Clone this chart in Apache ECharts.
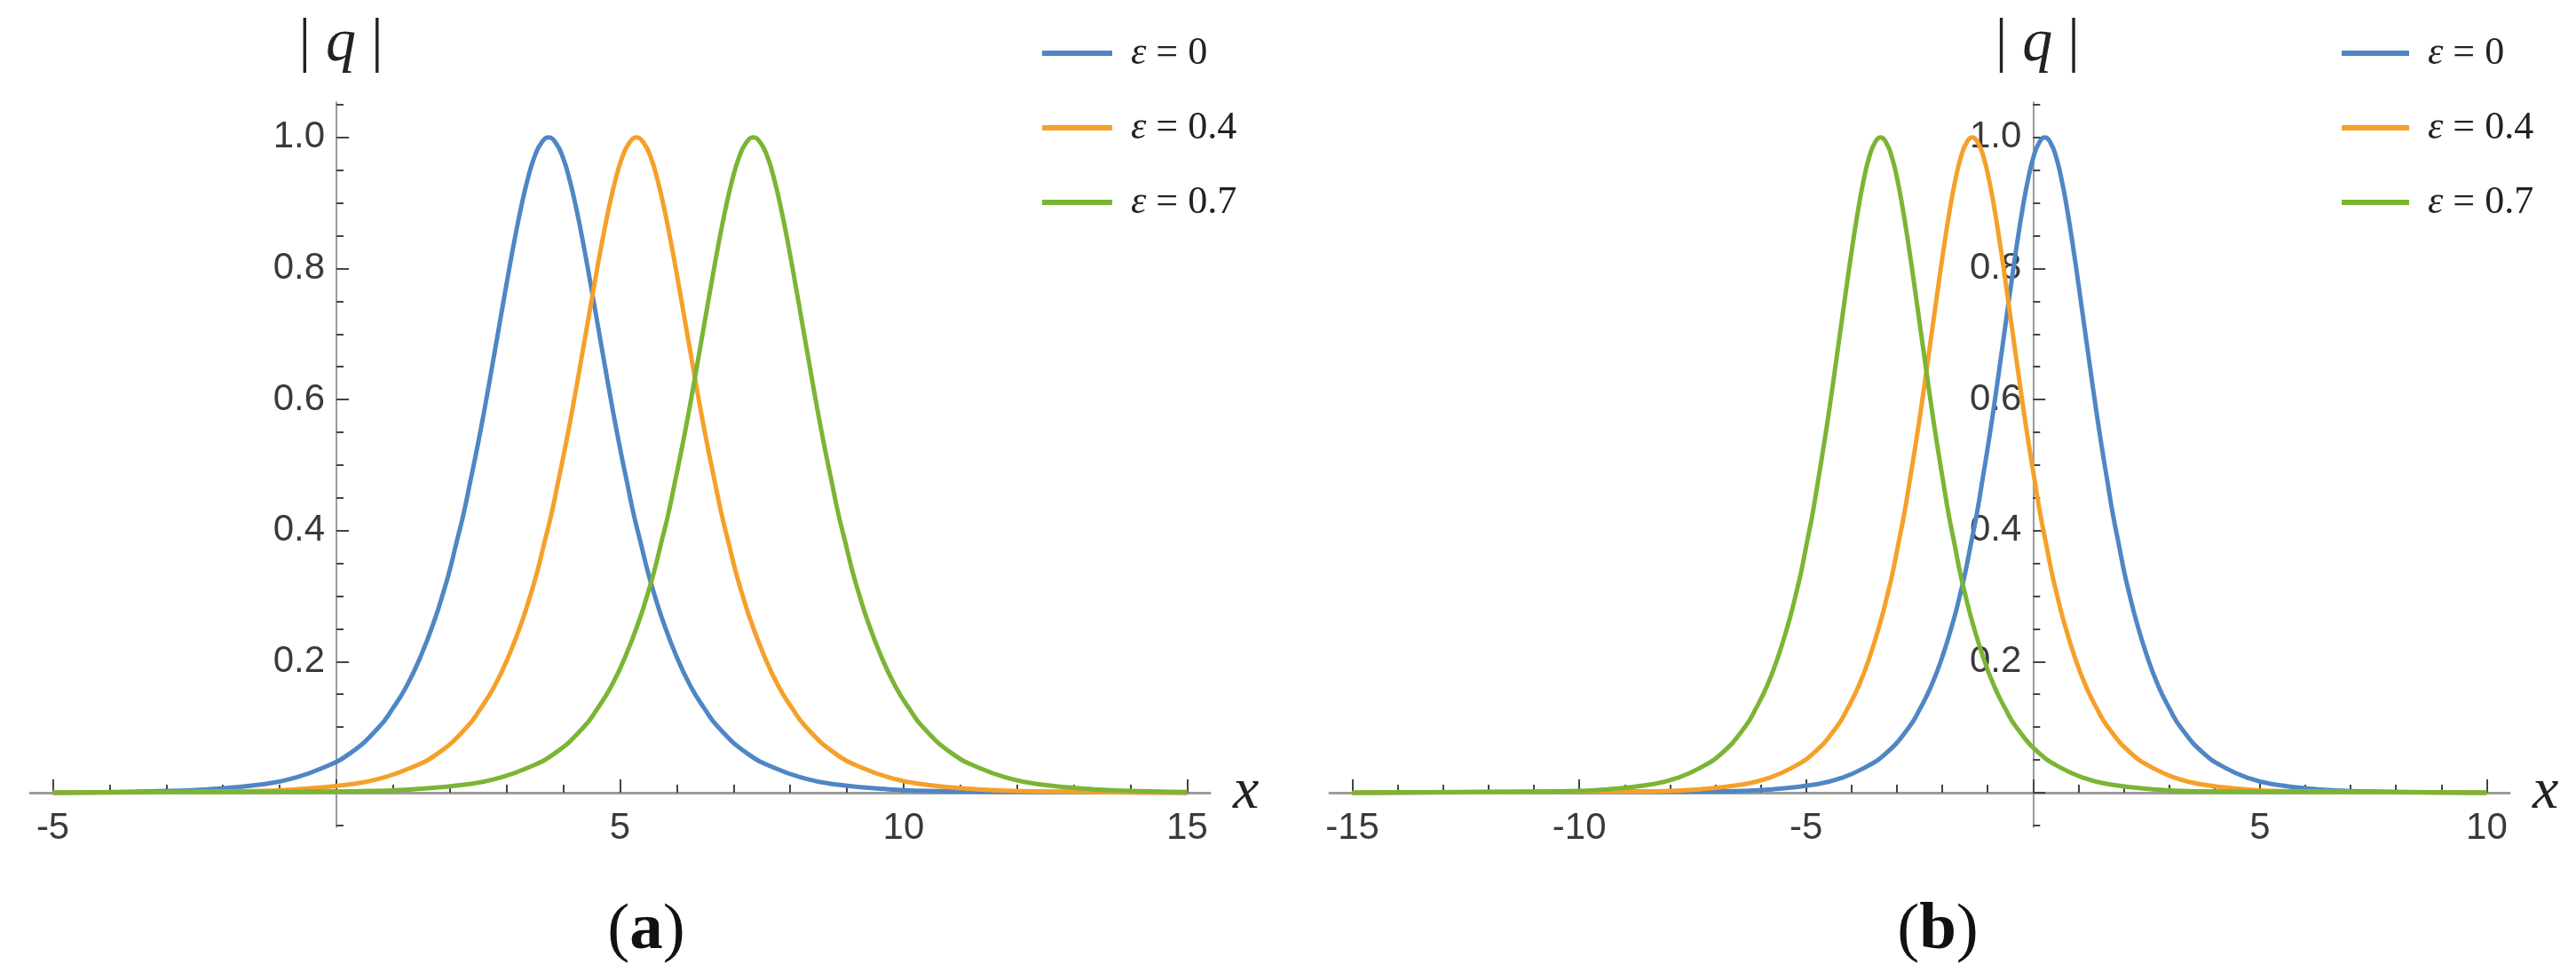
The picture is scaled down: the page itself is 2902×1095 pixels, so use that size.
<!DOCTYPE html>
<html>
<head>
<meta charset="utf-8">
<title>|q| profiles</title>
<script src="https://cdn.jsdelivr.net/npm/echarts@6/dist/echarts.min.js"></script>
<style>
  html, body { margin: 0; padding: 0; background: #fff; }
  #chart { width: 2902px; height: 1095px; }
</style>
</head>
<body>
<div id="chart"></div>
<script>
// 数据：两幅子图中 |q| 随 x 的分布
const seriesNames = ['ε = 0', 'ε = 0.4', 'ε = 0.7'];
const lineColors = ['#4f86c4', '#f5a02a', '#7ab534'];

// (a) 图
const leftEps0 = [
  [-5, 0.000], [-3.26, 0.002], [-2.26, 0.005], [-1.26, 0.013], [-0.76, 0.022], [-0.26, 0.037],
  [0.24, 0.060], [0.74, 0.099], [0.99, 0.128], [1.24, 0.163], [1.49, 0.209],
  [1.74, 0.266], [1.865, 0.300], [1.99, 0.337], [2.115, 0.381], [2.24, 0.425], [2.365, 0.477],
  [2.49, 0.530], [2.615, 0.587], [2.74, 0.648], [2.865, 0.710], [2.99, 0.772], [3.115, 0.832],
  [3.24, 0.887], [3.365, 0.934], [3.49, 0.970], [3.615, 0.992], [3.74, 1.000], [3.865, 0.992],
  [3.99, 0.970], [4.115, 0.934], [4.24, 0.887], [4.365, 0.832], [4.49, 0.772], [4.615, 0.710],
  [4.74, 0.648], [4.865, 0.587], [4.99, 0.530], [5.115, 0.477], [5.24, 0.425], [5.365, 0.381],
  [5.49, 0.337], [5.615, 0.300], [5.74, 0.266],
  [5.99, 0.209], [6.24, 0.163], [6.49, 0.128], [6.74, 0.099], [7.24, 0.060], [7.74, 0.037],
  [8.24, 0.022], [8.74, 0.013], [9.74, 0.005], [10.74, 0.002], [15, 0.000]
];
const leftEps04 = [
  [-5, 0.000], [-1.71, 0.002], [-0.71, 0.005], [0.29, 0.013], [0.79, 0.022], [1.29, 0.037],
  [1.79, 0.060], [2.29, 0.099], [2.54, 0.128], [2.79, 0.163], [3.04, 0.209],
  [3.29, 0.266], [3.415, 0.300], [3.54, 0.337], [3.665, 0.381], [3.79, 0.425], [3.915, 0.477],
  [4.04, 0.530], [4.165, 0.587], [4.29, 0.648], [4.415, 0.710], [4.54, 0.772], [4.665, 0.832],
  [4.79, 0.887], [4.915, 0.934], [5.04, 0.970], [5.165, 0.992], [5.29, 1.000], [5.415, 0.992],
  [5.54, 0.970], [5.665, 0.934], [5.79, 0.887], [5.915, 0.832], [6.04, 0.772], [6.165, 0.710],
  [6.29, 0.648], [6.415, 0.587], [6.54, 0.530], [6.665, 0.477], [6.79, 0.425], [6.915, 0.381],
  [7.04, 0.337], [7.165, 0.300], [7.29, 0.266],
  [7.54, 0.209], [7.79, 0.163], [8.04, 0.128], [8.29, 0.099], [8.79, 0.060], [9.29, 0.037],
  [9.79, 0.022], [10.29, 0.013], [11.29, 0.005], [12.29, 0.002], [15, 0.000]
];
const leftEps07 = [
  [-5, 0.000], [0.35, 0.002], [1.35, 0.005], [2.35, 0.013], [2.85, 0.022], [3.35, 0.037],
  [3.85, 0.060], [4.35, 0.099], [4.60, 0.128], [4.85, 0.163], [5.10, 0.209],
  [5.35, 0.266], [5.475, 0.300], [5.60, 0.337], [5.725, 0.381], [5.85, 0.425], [5.975, 0.477],
  [6.10, 0.530], [6.225, 0.587], [6.35, 0.648], [6.475, 0.710], [6.60, 0.772], [6.725, 0.832],
  [6.85, 0.887], [6.975, 0.934], [7.10, 0.970], [7.225, 0.992], [7.35, 1.000], [7.475, 0.992],
  [7.60, 0.970], [7.725, 0.934], [7.85, 0.887], [7.975, 0.832], [8.10, 0.772], [8.225, 0.710],
  [8.35, 0.648], [8.475, 0.587], [8.60, 0.530], [8.725, 0.477], [8.85, 0.425], [8.975, 0.381],
  [9.10, 0.337], [9.225, 0.300], [9.35, 0.266],
  [9.60, 0.209], [9.85, 0.163], [10.10, 0.128], [10.35, 0.099], [10.85, 0.060], [11.35, 0.037],
  [11.85, 0.022], [12.35, 0.013], [13.35, 0.005], [14.35, 0.002], [15, 0.001]
];

// (b) 图
const rightEps0 = [
  [-15, 0.000], [-6.74, 0.002], [-5.74, 0.005], [-4.74, 0.013], [-4.24, 0.022], [-3.74, 0.037],
  [-3.24, 0.060], [-2.74, 0.099], [-2.49, 0.128], [-2.24, 0.163], [-1.99, 0.209],
  [-1.74, 0.266], [-1.615, 0.300], [-1.49, 0.337], [-1.365, 0.381], [-1.24, 0.425], [-1.115, 0.477],
  [-0.99, 0.530], [-0.865, 0.587], [-0.74, 0.648], [-0.615, 0.710], [-0.49, 0.772], [-0.365, 0.832],
  [-0.24, 0.887], [-0.115, 0.934], [0.01, 0.970], [0.135, 0.992], [0.26, 1.000], [0.385, 0.992],
  [0.51, 0.970], [0.635, 0.934], [0.76, 0.887], [0.885, 0.832], [1.01, 0.772], [1.135, 0.710],
  [1.26, 0.648], [1.385, 0.587], [1.51, 0.530], [1.635, 0.477], [1.76, 0.425], [1.885, 0.381],
  [2.01, 0.337], [2.135, 0.300], [2.26, 0.266],
  [2.51, 0.209], [2.76, 0.163], [3.01, 0.128], [3.26, 0.099], [3.76, 0.060], [4.26, 0.037],
  [4.76, 0.022], [5.26, 0.013], [6.26, 0.005], [7.26, 0.002], [10, 0.000]
];
const rightEps04 = [
  [-15, 0.000], [-8.34, 0.002], [-7.34, 0.005], [-6.34, 0.013], [-5.84, 0.022], [-5.34, 0.037],
  [-4.84, 0.060], [-4.34, 0.099], [-4.09, 0.128], [-3.84, 0.163], [-3.59, 0.209],
  [-3.34, 0.266], [-3.215, 0.300], [-3.09, 0.337], [-2.965, 0.381], [-2.84, 0.425], [-2.715, 0.477],
  [-2.59, 0.530], [-2.465, 0.587], [-2.34, 0.648], [-2.215, 0.710], [-2.09, 0.772], [-1.965, 0.832],
  [-1.84, 0.887], [-1.715, 0.934], [-1.59, 0.970], [-1.465, 0.992], [-1.34, 1.000], [-1.215, 0.992],
  [-1.09, 0.970], [-0.965, 0.934], [-0.84, 0.887], [-0.715, 0.832], [-0.59, 0.772], [-0.465, 0.710],
  [-0.34, 0.648], [-0.215, 0.587], [-0.09, 0.530], [0.035, 0.477], [0.16, 0.425], [0.285, 0.381],
  [0.41, 0.337], [0.535, 0.300], [0.66, 0.266],
  [0.91, 0.209], [1.16, 0.163], [1.41, 0.128], [1.66, 0.099], [2.16, 0.060], [2.66, 0.037],
  [3.16, 0.022], [3.66, 0.013], [4.66, 0.005], [5.66, 0.002], [10, 0.000]
];
const rightEps07 = [
  [-15, 0.000], [-10.36, 0.002], [-9.36, 0.005], [-8.36, 0.013], [-7.86, 0.022], [-7.36, 0.037],
  [-6.86, 0.060], [-6.36, 0.099], [-6.11, 0.128], [-5.86, 0.163], [-5.61, 0.209],
  [-5.36, 0.266], [-5.235, 0.300], [-5.11, 0.337], [-4.985, 0.381], [-4.86, 0.425], [-4.735, 0.477],
  [-4.61, 0.530], [-4.485, 0.587], [-4.36, 0.648], [-4.235, 0.710], [-4.11, 0.772], [-3.985, 0.832],
  [-3.86, 0.887], [-3.735, 0.934], [-3.61, 0.970], [-3.485, 0.992], [-3.36, 1.000], [-3.235, 0.992],
  [-3.11, 0.970], [-2.985, 0.934], [-2.86, 0.887], [-2.735, 0.832], [-2.61, 0.772], [-2.485, 0.710],
  [-2.36, 0.648], [-2.235, 0.587], [-2.11, 0.530], [-1.985, 0.477], [-1.86, 0.425], [-1.735, 0.381],
  [-1.61, 0.337], [-1.485, 0.300], [-1.36, 0.266],
  [-1.11, 0.209], [-0.86, 0.163], [-0.61, 0.128], [-0.36, 0.099], [0.14, 0.060], [0.64, 0.037],
  [1.14, 0.022], [1.64, 0.013], [2.64, 0.005], [3.64, 0.002], [10, 0.000]
];

// 刻度
const leftXLabels = [-5, 5, 10, 15];
const leftXMajor = [-5, 0, 5, 10, 15];
const leftXMinor = [-5, -4, -3, -2, -1, 0, 1, 2, 3, 4, 5, 6, 7, 8, 9, 10, 11, 12, 13, 14, 15];
const rightXLabels = [-15, -10, -5, 5, 10];
const rightXMajor = [-15, -10, -5, 0, 5, 10];
const rightXMinor = [-15, -14, -13, -12, -11, -10, -9, -8, -7, -6, -5, -4, -3, -2, -1,
  0, 1, 2, 3, 4, 5, 6, 7, 8, 9, 10];
const yLabels = [0.2, 0.4, 0.6, 0.8, 1.0];
const yMajor = [0, 0.2, 0.4, 0.6, 0.8, 1.0];
const yMinor = [-0.05, 0, 0.05, 0.1, 0.15, 0.2, 0.25, 0.3, 0.35, 0.4, 0.45, 0.5, 0.55,
  0.6, 0.65, 0.7, 0.75, 0.8, 0.85, 0.9, 0.95, 1.0, 1.05];

const SANS = '"Liberation Sans", Arial, sans-serif';
const SERIF = '"Liberation Serif", "Times New Roman", serif';
const TICK_COLOR = '#444';

// 版面：两块绘图区，坐标轴穿过原点（用负 offset 把轴移到 0 处）
const GRID_TOP = 115;
const GRID_H = 817;
const GRID_W = 1329;
const Y_MIN = -0.053;
const Y_MAX = 1.054;
const X_AXIS_SHIFT = -GRID_H * (0 - Y_MIN) / (Y_MAX - Y_MIN);   // 底边 -> y=0

function yShift(min, max) {
  return -GRID_W * (0 - min) / (max - min);                     // 左边 -> x=0
}

// 主 x 轴（带标签与长刻度）
function majorXAxis(grid, min, max, labels, ticks) {
  return {
    type: 'value', gridIndex: grid, position: 'bottom', min: min, max: max, offset: X_AXIS_SHIFT,
    splitLine: { show: false },
    axisLine: { show: true, onZero: false, lineStyle: { color: '#9c9c9c', width: 3 } },
    axisTick: { show: true, inside: true, length: 15, customValues: ticks,
      lineStyle: { color: TICK_COLOR, width: 2 } },
    axisLabel: { show: true, customValues: labels, margin: 20, fontSize: 42,
      fontFamily: SANS, color: '#3a3a3a' },
    name: 'x', nameLocation: 'end', nameGap: 26,
    nameTextStyle: { fontFamily: SERIF, fontStyle: 'italic', fontSize: 66, color: '#222',
      padding: [0, 0, 14, 0] }
  };
}
// 次 x 轴（仅短刻度）
function minorXAxis(grid, min, max, ticks) {
  return {
    type: 'value', gridIndex: grid, position: 'bottom', min: min, max: max, offset: X_AXIS_SHIFT,
    splitLine: { show: false },
    axisLine: { show: false, onZero: false },
    axisTick: { show: true, inside: true, length: 9, customValues: ticks,
      lineStyle: { color: TICK_COLOR, width: 2 } },
    axisLabel: { show: false }
  };
}
function majorYAxis(grid, shift) {
  return {
    type: 'value', gridIndex: grid, position: 'left', min: Y_MIN, max: Y_MAX, offset: shift,
    splitLine: { show: false },
    axisLine: { show: true, onZero: false, lineStyle: { color: '#7a7a7a', width: 1.5 } },
    axisTick: { show: true, inside: true, length: 14, customValues: yMajor,
      lineStyle: { color: TICK_COLOR, width: 2 } },
    axisLabel: { show: true, customValues: yLabels, margin: 13, fontSize: 42,
      fontFamily: SANS, color: '#3a3a3a', formatter: (v) => v.toFixed(1) },
    name: '| {q|q} |', nameLocation: 'end', nameGap: 31,
    nameTextStyle: { fontFamily: SERIF, fontSize: 68, color: '#222', padding: [0, 0, 0, 10],
      rich: { q: { fontFamily: SERIF, fontStyle: 'italic', fontSize: 68, color: '#222' } } }
  };
}
function minorYAxis(grid, shift) {
  return {
    type: 'value', gridIndex: grid, position: 'left', min: Y_MIN, max: Y_MAX, offset: shift,
    splitLine: { show: false },
    axisLine: { show: false, onZero: false },
    axisTick: { show: true, inside: true, length: 8, customValues: yMinor,
      lineStyle: { color: TICK_COLOR, width: 2 } },
    axisLabel: { show: false }
  };
}

function curve(name, data, idx, xi, yi) {
  return {
    name: name, type: 'line', data: data,
    xAxisIndex: xi, yAxisIndex: yi,
    smooth: true, symbol: 'none', showSymbol: false,
    lineStyle: { color: lineColors[idx], width: 5 },
    itemStyle: { color: lineColors[idx] }
  };
}

function legendBlock(left, width) {
  return {
    orient: 'vertical', left: left, top: 32,
    icon: 'rect', itemWidth: width, itemHeight: 6, itemGap: 38,
    data: seriesNames,
    formatter: (n) => n.replace('ε', '{e|ε}'),
    textStyle: {
      fontFamily: SERIF, fontSize: 44, color: '#222', lineHeight: 46,
      padding: [0, 0, 0, 16],
      rich: { e: { fontFamily: SERIF, fontStyle: 'italic', fontSize: 44, color: '#222' } }
    }
  };
}

const chart = echarts.init(document.getElementById('chart'));

const leftShift = yShift(-5.4, 15.4);
const rightShift = yShift(-15.5, 10.5);

const option = {
  backgroundColor: '#fff',
  animation: false,
  grid: [
    { left: 34, top: GRID_TOP, width: GRID_W, height: GRID_H, outerBoundsMode: 'none', containLabel: false },
    { left: 1498, top: GRID_TOP, width: GRID_W, height: GRID_H, outerBoundsMode: 'none', containLabel: false }
  ],
  xAxis: [
    majorXAxis(0, -5.4, 15.4, leftXLabels, leftXMajor),
    minorXAxis(0, -5.4, 15.4, leftXMinor),
    majorXAxis(1, -15.5, 10.5, rightXLabels, rightXMajor),
    minorXAxis(1, -15.5, 10.5, rightXMinor)
  ],
  yAxis: [
    majorYAxis(0, leftShift), minorYAxis(0, leftShift),
    majorYAxis(1, rightShift), minorYAxis(1, rightShift)
  ],
  legend: [legendBlock(1169, 79), legendBlock(2633, 76)],
  series: [
    curve(seriesNames[0], leftEps0, 0, 0, 0),
    curve(seriesNames[1], leftEps04, 1, 0, 0),
    curve(seriesNames[2], leftEps07, 2, 0, 0),
    curve(seriesNames[0], rightEps0, 0, 2, 2),
    curve(seriesNames[1], rightEps04, 1, 2, 2),
    curve(seriesNames[2], rightEps07, 2, 2, 2)
  ],
  graphic: [
    { type: 'text', x: 728, y: 1049,
      style: { text: '({b|a})', fontFamily: SERIF, fontSize: 75, fill: '#111',
        align: 'center', verticalAlign: 'middle',
        rich: { b: { fontFamily: SERIF, fontSize: 75, fontWeight: 'bold', fill: '#111' } } } },
    { type: 'text', x: 2183, y: 1049,
      style: { text: '({b|b})', fontFamily: SERIF, fontSize: 75, fill: '#111',
        align: 'center', verticalAlign: 'middle',
        rich: { b: { fontFamily: SERIF, fontSize: 75, fontWeight: 'bold', fill: '#111' } } } }
  ]
};

chart.setOption(option);
</script>
</body>
</html>
